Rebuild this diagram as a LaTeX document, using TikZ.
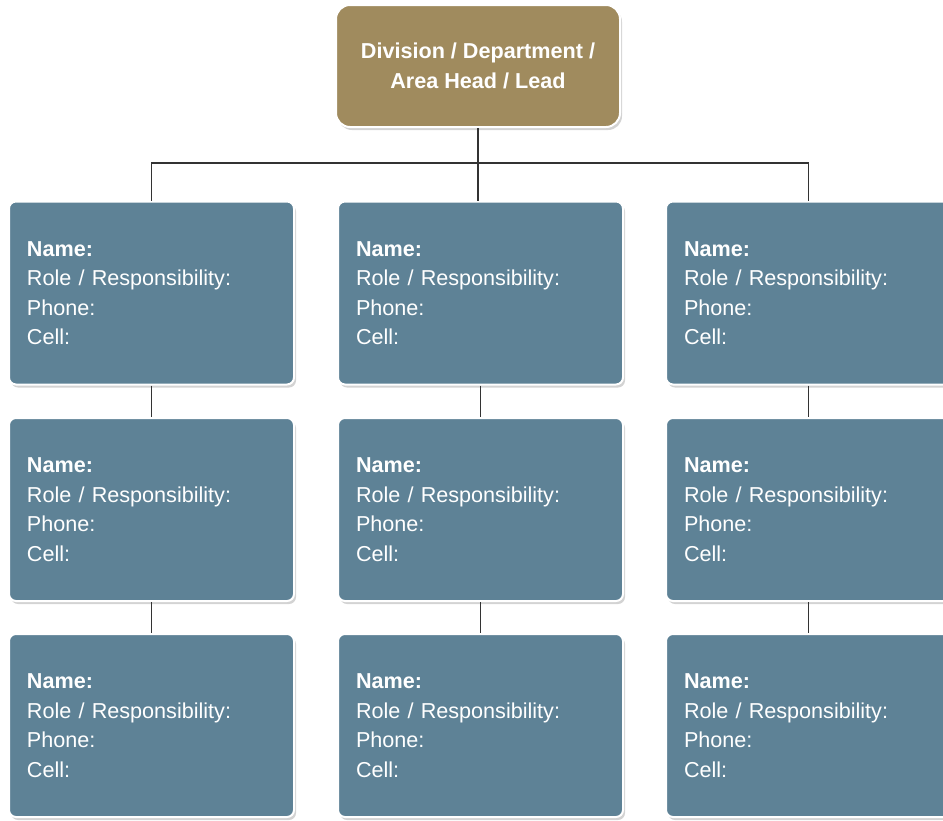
\documentclass[tikz,border=0pt]{standalone}
\usepackage{fontspec}
\setmainfont{Liberation Sans}
\usepackage{tikz}
\usetikzlibrary{shadows}
\definecolor{headgold}{RGB}{160,139,94}
\definecolor{cardblue}{RGB}{94,130,150}
\definecolor{linegray}{RGB}{51,51,51}
\tikzset{
	headbox/.style={draw=white, line width=2pt, fill=headgold, rounded corners=14pt, text=white, align=center, minimum width=284pt, minimum height=122pt, font=\fontsize{21.6}{30}\selectfont\bfseries, drop shadow={opacity=0.35, shadow xshift=2pt, shadow yshift=-3pt}},
	card/.style={draw=white, line width=2pt, fill=cardblue, rounded corners=7pt, text=white, align=left, text width=249pt, inner xsep=18pt, minimum height=183pt, font=\fontsize{21.6}{29.5}\selectfont, drop shadow={opacity=0.35, shadow xshift=2pt, shadow yshift=-3pt}},
	conn/.style={draw=linegray, line width=1.6pt}
}
\newcommand{\cardtext}{\textbf{Name:}\\Role / Responsibility:\\Phone:\\Cell:}
\begin{document}
\begin{tikzpicture}[x=1pt, y=-1pt]
			\clip (0,0) rectangle (943,820);
			\useasboundingbox (0,0) rectangle (943,820);
			\node[headbox] (head) at (478,66) {Division / Department /\\Area Head / Lead};
			% first row
			\node[card] (c1r1) at (151.5,293) {\cardtext};
			\node[card] (c2r1) at (480.5,293) {\cardtext};
			\node[card] (c3r1) at (808.5,293) {\cardtext};
			% second row
			\node[card] (c1r2) at (151.5,509.5) {\cardtext};
			\node[card] (c2r2) at (480.5,509.5) {\cardtext};
			\node[card] (c3r2) at (808.5,509.5) {\cardtext};
			% third row
			\node[card] (c1r3) at (151.5,725.5) {\cardtext};
			\node[card] (c2r3) at (480.5,725.5) {\cardtext};
			\node[card] (c3r3) at (808.5,725.5) {\cardtext};
			\coordinate (bus) at (478,163);
			\draw[conn] (head.south) -- (head.south |- c2r1.north);
			\draw[conn] (c1r1.north) |- (bus) -| (c3r1.north);
			\draw[conn] (c1r1) -- (c1r2);
			\draw[conn] (c1r2) -- (c1r3);
			\draw[conn] (c2r1) -- (c2r2);
			\draw[conn] (c2r2) -- (c2r3);
			\draw[conn] (c3r1) -- (c3r2);
			\draw[conn] (c3r2) -- (c3r3);
		\end{tikzpicture}
\end{document}
